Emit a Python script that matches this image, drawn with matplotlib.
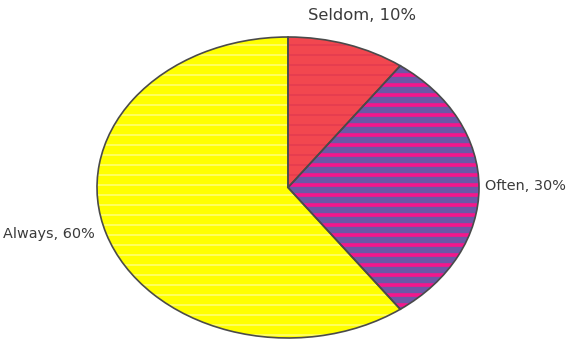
import matplotlib
matplotlib.use("Agg")
import matplotlib.pyplot as plt

categories = ["Seldom", "Often", "Always"]
values = [10, 30, 60]
labels = ["Seldom, 10%", "Often, 30%", "Always, 60%"]
face_colors = ["#F2474F", "#6C58A6", "#FFFF00"]
hatch_colors = ["#DC3450", "#F4178C", "#FFFFB8"]
hatch_widths = [0.6, 2.2, 0.6]

DPI = 120
fig = plt.figure(figsize=(567 / DPI, 343 / DPI), dpi=DPI)
ax = fig.add_axes([97 / 567, 5 / 343, 382 / 567, 301 / 343])

wedges, _ = ax.pie(values, colors=face_colors, startangle=90, counterclock=False,
                   wedgeprops=dict(linewidth=0))
hw, _ = ax.pie(values, startangle=90, counterclock=False,
               wedgeprops=dict(facecolor="none", linewidth=0))
for w, hc, lw in zip(hw, hatch_colors, hatch_widths):
    w.set_edgecolor(hc)
    if hasattr(w, "set_hatch_linewidth"):
        w.set_hatch_linewidth(lw)
    w.set_hatch("--")
ow, _ = ax.pie(values, startangle=90, counterclock=False,
               wedgeprops=dict(facecolor="none", edgecolor="#4a4a4a", linewidth=1.0))

ax.set_aspect("auto")
ax.set_xlim(-1, 1)
ax.set_ylim(-1, 1)
ax.axis("off")

tkw = dict(family="DejaVu Sans", color="#3a3a3a", va="center")
fig.text(362 / 567, 1 - 16 / 343, labels[0], ha="center", fontsize=9.8, **tkw)
fig.text(485 / 567, 1 - 186 / 343, labels[1], ha="left", fontsize=8.6, **tkw)
fig.text(95 / 567, 1 - 234 / 343, labels[2], ha="right", fontsize=8.6, **tkw)

fig.savefig("out.png", dpi=DPI)
